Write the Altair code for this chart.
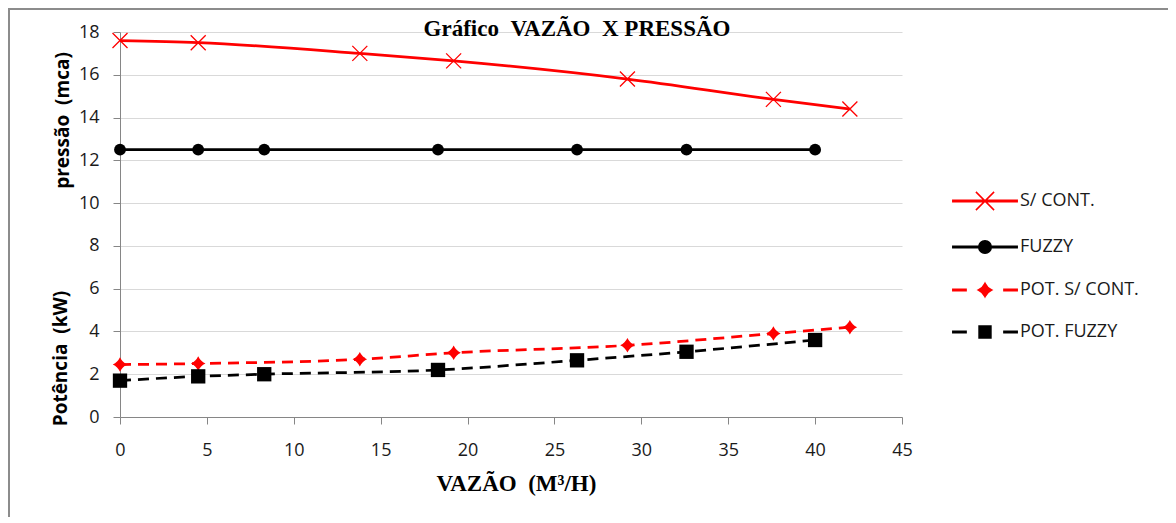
import altair as alt
import pandas as pd

# ---- data ----
series_names = ["S/ CONT.", "FUZZY", "POT. S/ CONT.", "POT. FUZZY"]
series_colors = ["#ff0000", "#000000", "#ff0000", "#000000"]

sc_x = [0, 4.5, 13.8, 19.2, 29.2, 37.6, 42.0]
sc_y = [17.6, 17.5, 17.0, 16.65, 15.8, 14.85, 14.4]

fz_x = [0, 4.5, 8.3, 18.3, 26.3, 32.6, 40.0]
fz_y = [12.5, 12.5, 12.5, 12.5, 12.5, 12.5, 12.5]

psc_x = [0, 4.5, 13.8, 19.2, 29.2, 37.6, 42.0]
psc_y = [2.45, 2.5, 2.7, 3.0, 3.35, 3.9, 4.2]

pfz_x = [0, 4.5, 8.3, 18.3, 26.3, 32.6, 40.0]
pfz_y = [1.7, 1.9, 2.0, 2.2, 2.65, 3.05, 3.6]

x_ticks = [0, 5, 10, 15, 20, 25, 30, 35, 40, 45]
y_ticks = [0, 2, 4, 6, 8, 10, 12, 14, 16, 18]

NB = "\u00a0"
chart_title = "Gráfico " + NB + "VAZÃO " + NB + "X PRESSÃO"
x_title = "VAZÃO " + NB + "(M³/H)"
y_title_top = "pressão " + NB + "(mca)"
y_title_bottom = "Potência " + NB + "(kW)"

# ---- tables ----
def frame(xs, ys, name):
    return pd.DataFrame({"x": xs, "y": ys, "series": name})

d_sc = frame(sc_x, sc_y, series_names[0])
d_fz = frame(fz_x, fz_y, series_names[1])
d_psc = frame(psc_x, psc_y, series_names[2])
d_pfz = frame(pfz_x, pfz_y, series_names[3])
d_all = pd.concat([d_sc, d_fz, d_psc, d_pfz], ignore_index=True)

SANS = "Open Sans"
SERIF = "Liberation Serif"
LBL = "#1a1a1a"
AXC = "#868686"

x_enc = alt.X(
    "x:Q",
    scale=alt.Scale(domain=[0, 45], nice=False, zero=False),
    axis=alt.Axis(
        values=x_ticks, grid=False, tickSize=7, tickColor=AXC, domainColor=AXC,
        labelFont=SANS, labelFontSize=18, labelColor=LBL, labelPadding=17,
        labelFlush=False,
        title=x_title, titleFont=SERIF, titleFontSize=23, titleFontWeight="bold",
        titleColor="#000000", titleX=396, titleY=73, titleBaseline="alphabetic",
        titleAlign="center",
    ),
)
y_scale = alt.Scale(domain=[0, 18], nice=False, zero=False)

y_main = alt.Y(
    "y:Q", scale=y_scale,
    axis=alt.Axis(
        orient="left",
        values=y_ticks, grid=True, gridColor="#d9d9d9", gridWidth=1,
        tickSize=7, tickColor=AXC, domainColor=AXC,
        labelFont=SANS, labelFontSize=18, labelColor=LBL, labelPadding=14,
        labelFlush=False,
        title=y_title_top, titleFont=SANS, titleFontSize=19, titleFontWeight="bold",
        titleColor="#000000", titleAngle=270, titleX=-58, titleY=88,
        titleAlign="center", titleBaseline="middle",
    ),
)
y_plain = alt.Y("y:Q", scale=y_scale, axis=None)
y_second = alt.Y(
    "y:Q", scale=y_scale,
    axis=alt.Axis(
        orient="left",
        labels=False, ticks=False, domain=False, grid=False,
        title=y_title_bottom, titleFont=SANS, titleFontSize=19, titleFontWeight="bold",
        titleColor="#000000", titleAngle=270, titleX=-60, titleY=326,
        titleAlign="center", titleBaseline="middle",
    ),
)

X_SHAPE = "M-1,-1L1,1M-1,1L1,-1"
STAR = "M0,-1Q0.32,-0.32 1,0Q0.32,0.32 0,1Q-0.32,0.32 -1,0Q-0.32,-0.32 0,-1Z"

# lines
l_sc = alt.Chart(d_sc).mark_line(color="#ff0000", strokeWidth=2.75, interpolate="monotone").encode(x=x_enc, y=y_main)
l_fz = alt.Chart(d_fz).mark_line(color="#000000", strokeWidth=2.75).encode(x=x_enc, y=y_plain)
l_psc = alt.Chart(d_psc).mark_line(color="#ff0000", strokeWidth=2.75, strokeDash=[11, 7], interpolate="monotone").encode(x=x_enc, y=y_plain)
l_pfz = alt.Chart(d_pfz).mark_line(color="#000000", strokeWidth=2.75, strokeDash=[11, 7], interpolate="monotone").encode(x=x_enc, y=y_plain)

# markers
p_sc = alt.Chart(d_sc).mark_point(shape=X_SHAPE, filled=False, size=225, strokeWidth=1.3, color="#ff0000", opacity=1).encode(x=x_enc, y=y_plain)
p_fz = alt.Chart(d_fz).mark_point(shape="circle", filled=True, size=140, color="#000000", opacity=1).encode(x=x_enc, y=y_plain)
p_psc = alt.Chart(d_psc).mark_point(shape=STAR, filled=True, size=210, color="#ff0000", opacity=1).encode(x=x_enc, y=y_plain)
p_pfz = alt.Chart(d_pfz).mark_point(shape="square", filled=True, size=205, color="#000000", opacity=1).encode(x=x_enc, y=y_plain)

# legend symbols: line + marker drawn as one custom path (unit = 7px)
full_line = "M-4.6,-0.12H4.6V0.12H-4.6Z"
split_line = "M-4.6,-0.12H-0.95V0.12H-4.6ZM0.95,-0.12H4.6V0.12H0.95Z"
dash_line = "M-4.6,-0.12H-2.7V0.12H-4.6ZM2.7,-0.12H4.6V0.12H2.7Z"
leg_paths = [
    full_line + "M-1.3,-1.3L1.3,1.3M-1.3,1.3L1.3,-1.3",
    split_line + "M-0.9,0A0.9,0.9 0 1,1 0.9,0A0.9,0.9 0 1,1 -0.9,0Z",
    dash_line + "M0,-0.95Q0.3,-0.3 0.95,0Q0.3,0.3 0,0.95Q-0.3,0.3 -0.95,0Q-0.3,-0.3 0,-0.95Z",
    dash_line + "M-0.85,-0.85H0.85V0.85H-0.85Z",
]

legend = alt.Legend(
    orient="none", legendX=856, legendY=160, title=None, padding=0,
    symbolSize=196, symbolStrokeWidth=1.5, symbolOpacity=1,
    labelFont=SANS, labelFontSize=18, labelColor=LBL, labelOffset=26,
    rowPadding=23, labelLimit=300,
)
color_scale = alt.Scale(domain=series_names, range=series_colors)
leg_layer = alt.Chart(d_all).mark_point(filled=True, opacity=0).encode(
    x=x_enc, y=y_second,
    color=alt.Color("series:N", scale=color_scale, legend=legend, sort=series_names),
    stroke=alt.Stroke("series:N", scale=color_scale, legend=legend, sort=series_names),
    shape=alt.Shape("series:N", scale=alt.Scale(domain=series_names, range=leg_paths), legend=legend, sort=series_names),
)

# outer frame of the picture
border = alt.Chart(pd.DataFrame({"k": [0]})).mark_rect(
    fill="#ffffff", fillOpacity=0, stroke="#8c8c8c", strokeWidth=2
).encode(x=alt.value(-111), x2=alt.value(1200), y=alt.value(-23), y2=alt.value(700))

chart = alt.layer(
    border, l_sc, l_fz, l_psc, l_pfz, p_sc, p_fz, p_psc, p_pfz, leg_layer
).resolve_axis(y="independent").properties(
    width=782, height=385,
    autosize=alt.AutoSizeParams(type="none"),
    padding={"left": 112, "top": 24, "right": 266, "bottom": 100},
    title=alt.TitleParams(
        chart_title, font=SERIF, fontSize=23, fontWeight="bold", color="#000000",
        anchor="middle", frame="group", dx=66, offset=-30, dy=21, baseline="alphabetic",
    ),
    background="#ffffff",
).configure_view(stroke="transparent")

chart.save("out.html", embed_options={"renderer": "svg", "actions": False})
